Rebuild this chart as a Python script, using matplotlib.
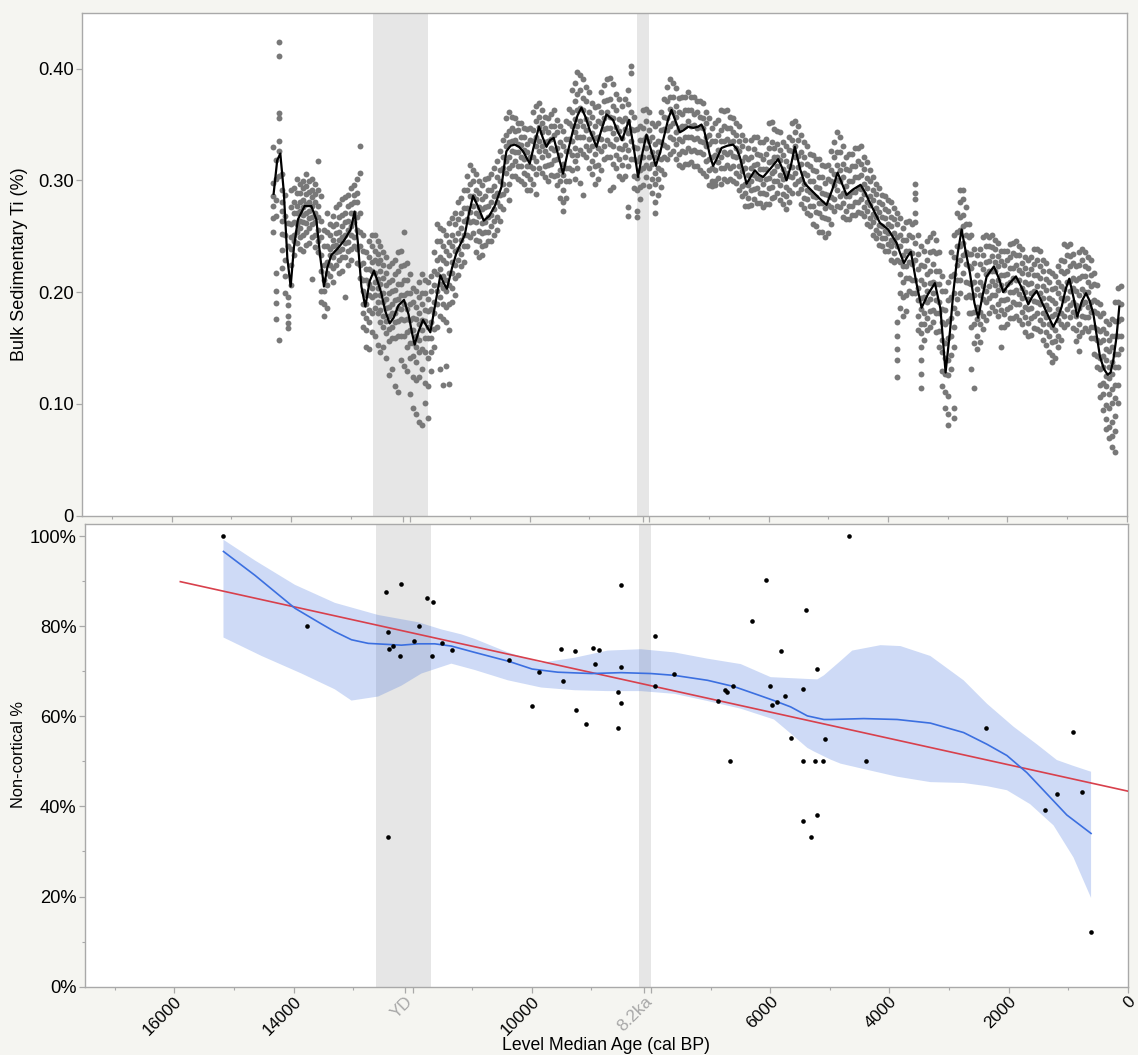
import numpy as np
import matplotlib
matplotlib.use("Agg")
import matplotlib.pyplot as plt

plt.rcParams['font.family'] = ['Liberation Sans', 'DejaVu Sans']

# ---------------- top panel: bulk sedimentary Ti ----------------
# sample ages (cal BP) at which the point cloud was read
TI_AGE = [
    14300, 14250, 14200, 14150, 14100, 14050, 14000, 13950, 13900, 13850,
    13800, 13750, 13700, 13650, 13600, 13550, 13500, 13450, 13400, 13350,
    13300, 13250, 13200, 13150, 13100, 13050, 13000, 12950, 12900, 12850,
    12800, 12750, 12700, 12650, 12600, 12550, 12500, 12450, 12400, 12350,
    12300, 12250, 12200, 12150, 12100, 12050, 12000, 11950, 11900, 11850,
    11800, 11750, 11700, 11650, 11600, 11550, 11500, 11450, 11400, 11350,
    11300, 11250, 11200, 11150, 11100, 11050, 11000, 10950, 10900, 10850,
    10800, 10750, 10700, 10650, 10600, 10550, 10500, 10450, 10400, 10350,
    10300, 10250, 10200, 10150, 10100, 10050, 10000, 9950, 9900, 9850,
    9800, 9750, 9700, 9650, 9600, 9550, 9500, 9450, 9400, 9350,
    9300, 9250, 9200, 9150, 9100, 9050, 9000, 8950, 8900, 8850,
    8800, 8750, 8700, 8650, 8600, 8550, 8500, 8450, 8400, 8350,
    8300, 8250, 8200, 8150, 8100, 8050, 8000, 7950, 7900, 7850,
    7800, 7750, 7700, 7650, 7600, 7550, 7500, 7450, 7400, 7350,
    7300, 7250, 7200, 7150, 7100, 7050, 7000, 6950, 6900, 6850,
    6800, 6750, 6700, 6650, 6600, 6550, 6500, 6450, 6400, 6350,
    6300, 6250, 6200, 6150, 6100, 6050, 6000, 5950, 5900, 5850,
    5800, 5750, 5700, 5650, 5600, 5550, 5500, 5450, 5400, 5350,
    5300, 5250, 5200, 5150, 5100, 5050, 5000, 4950, 4900, 4850,
    4800, 4750, 4700, 4650, 4600, 4550, 4500, 4450, 4400, 4350,
    4300, 4250, 4200, 4150, 4100, 4050, 4000, 3950, 3900, 3850,
    3800, 3750, 3700, 3650, 3600, 3550, 3500, 3450, 3400, 3350,
    3300, 3250, 3200, 3150, 3100, 3050, 3000, 2950, 2900, 2850,
    2800, 2750, 2700, 2650, 2600, 2550, 2500, 2450, 2400, 2350,
    2300, 2250, 2200, 2150, 2100, 2050, 2000, 1950, 1900, 1850,
    1800, 1750, 1700, 1650, 1600, 1550, 1500, 1450, 1400, 1350,
    1300, 1250, 1200, 1150, 1100, 1050, 1000, 950, 900, 850,
    800, 750, 700, 650, 600, 550, 500, 450, 400, 350,
    300, 250, 200, 150, 100,
]

# Ti values read at each age (thousandths of a percent)
TI_VALUES = [
    [330, 298, 286, 277, 266, 254],
    [318, 301, 282, 268, 217, 201, 190, 176],
    [424, 411, 360, 356, 335, 326, 304, 157],
    [306, 291, 281, 273, 264, 252, 238, 222],
    [287, 268, 251, 229, 214, 199],
    [262, 241, 196, 188, 179, 172, 168],
    [291, 276, 261, 249, 239, 224, 206],
    [293, 281, 271, 263, 251, 246, 233],
    [301, 289, 277, 271, 261, 254, 244],
    [297, 289, 281, 273, 264, 257, 249, 239],
    [299, 293, 282, 276, 269, 263, 251, 237],
    [306, 295, 288, 279, 271, 262, 254, 242],
    [299, 290, 281, 273, 266, 257, 244],
    [301, 291, 285, 277, 267, 261, 249, 212],
    [297, 288, 281, 271, 263, 251, 240],
    [317, 291, 277, 267, 256, 246, 236],
    [286, 264, 249, 233, 219, 201, 191],
    [256, 241, 224, 211, 201, 189, 179],
    [271, 254, 241, 227, 217, 206, 186],
    [261, 251, 239, 233, 224, 214],
    [268, 259, 247, 241, 231, 222, 209],
    [276, 261, 253, 242, 236, 224],
    [279, 267, 254, 247, 237, 229, 217],
    [283, 269, 259, 249, 239, 231, 219],
    [285, 271, 263, 251, 244, 231, 196],
    [287, 277, 264, 256, 245, 237, 224],
    [293, 279, 271, 259, 251, 239, 229],
    [296, 287, 281, 271, 263, 249, 241],
    [301, 289, 281, 267, 256, 239, 226],
    [331, 307, 271, 254, 241, 224, 213],
    [251, 237, 226, 211, 201, 189, 181, 169],
    [236, 221, 211, 197, 189, 177, 166, 151],
    [246, 231, 221, 207, 197, 184, 173, 149],
    [251, 241, 227, 219, 204, 196, 181, 164],
    [251, 237, 229, 217, 209, 197, 186, 161],
    [246, 234, 226, 212, 204, 191, 181, 153],
    [241, 229, 219, 207, 197, 184, 173, 146],
    [236, 224, 213, 199, 191, 179, 169, 151],
    [231, 217, 206, 194, 186, 174, 163, 141],
    [223, 209, 199, 187, 179, 167, 156, 126],
    [226, 211, 201, 189, 181, 169, 159, 131],
    [229, 216, 202, 193, 181, 173, 159, 116],
    [236, 219, 207, 194, 186, 174, 161, 111],
    [237, 223, 207, 197, 185, 176, 161, 139],
    [254, 224, 211, 197, 189, 175, 161, 134],
    [226, 211, 199, 185, 176, 164, 151, 129],
    [216, 199, 189, 175, 166, 154, 141, 109],
    [204, 191, 177, 166, 154, 143, 124, 96],
    [201, 187, 176, 161, 151, 137, 121, 91],
    [209, 196, 181, 171, 157, 146, 124, 84],
    [216, 199, 189, 175, 166, 149, 131, 81],
    [211, 199, 184, 174, 159, 146, 119, 101],
    [209, 194, 183, 169, 159, 141, 116, 87],
    [214, 201, 185, 173, 159, 146, 129],
    [236, 219, 206, 191, 181, 167, 151],
    [261, 246, 229, 216, 201, 189, 169],
    [257, 246, 231, 221, 207, 196, 179, 131],
    [256, 241, 229, 214, 204, 189, 176, 117],
    [251, 237, 226, 211, 201, 187, 173, 134],
    [262, 245, 233, 217, 206, 189, 166, 118],
    [266, 251, 241, 227, 217, 204, 191],
    [271, 261, 247, 237, 224, 213, 197],
    [281, 265, 253, 239, 229, 215],
    [284, 271, 257, 247, 234, 223],
    [291, 275, 264, 251, 241, 227],
    [304, 291, 275, 265, 251, 241],
    [314, 297, 286, 272, 263, 249],
    [309, 299, 286, 277, 264, 253],
    [306, 291, 283, 271, 263, 247, 236],
    [299, 289, 276, 268, 255, 246, 231],
    [296, 283, 274, 262, 253, 241, 233],
    [301, 286, 276, 263, 254, 242],
    [302, 291, 277, 267, 254, 246],
    [306, 291, 281, 269, 259, 246],
    [311, 295, 286, 274, 264, 251],
    [317, 303, 289, 281, 267, 256],
    [326, 309, 299, 287, 277, 264],
    [336, 321, 311, 297, 288, 274],
    [356, 341, 331, 317, 307, 291],
    [361, 344, 334, 321, 311, 297, 282],
    [357, 347, 335, 326, 314, 304],
    [356, 344, 336, 325, 317, 304],
    [351, 345, 333, 325, 313, 301],
    [351, 339, 332, 321, 313, 299],
    [347, 339, 327, 319, 307, 297],
    [346, 333, 325, 313, 305, 291],
    [347, 336, 321, 313, 301, 291],
    [361, 345, 335, 321, 311, 297],
    [367, 353, 339, 331, 317, 306, 288],
    [369, 357, 348, 335, 326, 311],
    [363, 351, 343, 331, 321, 307],
    [357, 347, 334, 326, 313, 303],
    [356, 343, 335, 323, 314, 299],
    [359, 349, 337, 329, 315, 305],
    [363, 349, 341, 327, 318, 304],
    [354, 343, 329, 319, 305, 296],
    [349, 334, 323, 309, 299, 284],
    [344, 331, 315, 305, 291, 281, 273],
    [353, 337, 326, 311, 299, 284],
    [364, 351, 337, 326, 311, 299],
    [381, 361, 349, 335, 323, 309],
    [387, 371, 355, 343, 329, 317, 301],
    [397, 377, 363, 349, 339, 323, 311],
    [394, 381, 365, 353, 339, 327, 298],
    [391, 374, 363, 349, 339, 324, 287],
    [384, 371, 355, 345, 331, 321],
    [379, 361, 351, 337, 327, 311],
    [369, 357, 342, 331, 317, 306],
    [366, 349, 338, 324, 313, 297],
    [367, 353, 339, 329, 314, 301],
    [379, 361, 351, 337, 326, 309],
    [385, 371, 356, 346, 331, 319],
    [391, 372, 361, 347, 336, 321],
    [392, 373, 357, 347, 333, 321, 291],
    [386, 367, 356, 342, 331, 315, 294],
    [377, 363, 348, 337, 323, 311],
    [373, 355, 344, 329, 319, 304],
    [367, 353, 338, 328, 314, 301],
    [373, 356, 346, 332, 321, 304],
    [381, 368, 353, 342, 327, 313, 276, 268],
    [402, 396, 361, 346, 335, 319],
    [357, 345, 330, 319, 304, 293],
    [346, 329, 317, 302, 291, 273, 267],
    [349, 336, 321, 309, 294, 283],
    [363, 347, 336, 321, 311, 296],
    [364, 353, 339, 329, 314, 303],
    [361, 345, 335, 321, 311, 295],
    [351, 339, 325, 315, 301, 289],
    [349, 333, 321, 307, 297, 281, 271],
    [351, 335, 325, 311, 301, 287],
    [361, 345, 334, 319, 309, 294],
    [373, 357, 346, 332, 321, 306],
    [384, 371, 356, 345, 330, 319],
    [391, 375, 364, 349, 339, 324],
    [387, 375, 361, 351, 337, 326],
    [383, 367, 357, 343, 333, 319],
    [374, 361, 347, 337, 324, 314],
    [375, 359, 349, 335, 326, 312],
    [375, 363, 349, 339, 325, 315],
    [379, 363, 353, 339, 329, 315],
    [375, 363, 349, 339, 326, 316],
    [375, 359, 350, 337, 327, 313],
    [371, 361, 347, 338, 325, 313],
    [371, 357, 348, 335, 325, 309],
    [369, 356, 347, 334, 324, 307],
    [361, 351, 339, 331, 317, 304],
    [356, 341, 333, 319, 309, 296],
    [347, 335, 321, 311, 299, 295],
    [351, 335, 323, 309, 299, 296],
    [354, 341, 327, 316, 302],
    [363, 345, 335, 321, 311, 297],
    [362, 349, 335, 325, 311, 301],
    [363, 347, 337, 324, 314, 299],
    [357, 347, 334, 325, 311, 301],
    [356, 343, 335, 322, 313, 299],
    [351, 341, 329, 321, 307, 298],
    [349, 335, 326, 313, 304, 291],
    [341, 331, 317, 308, 295, 286],
    [336, 321, 311, 297, 289, 277],
    [329, 319, 305, 296, 284, 277],
    [336, 321, 311, 299, 291, 278],
    [339, 328, 314, 305, 292, 283],
    [339, 324, 315, 302, 293, 280],
    [334, 323, 310, 301, 289, 280],
    [334, 319, 310, 297, 289, 276],
    [337, 324, 310, 301, 288, 279],
    [351, 329, 316, 302, 293, 279],
    [352, 334, 317, 307, 294, 284],
    [346, 329, 321, 308, 299, 285],
    [344, 333, 321, 313, 299, 289],
    [343, 327, 318, 305, 296, 282],
    [334, 323, 310, 301, 288, 279],
    [331, 317, 307, 294, 286, 274],
    [339, 327, 313, 304, 291, 281],
    [351, 336, 326, 312, 303, 289],
    [353, 343, 331, 321, 307, 297],
    [349, 336, 322, 312, 299, 289],
    [341, 325, 315, 301, 292, 279],
    [334, 321, 307, 297, 284, 275],
    [331, 315, 305, 291, 283, 271],
    [324, 313, 299, 290, 277, 269],
    [323, 309, 299, 286, 277, 261],
    [319, 308, 294, 285, 272, 259],
    [319, 303, 293, 280, 271, 254],
    [314, 303, 289, 280, 267, 254],
    [313, 298, 288, 275, 266, 249],
    [314, 301, 287, 278, 265, 253],
    [326, 309, 299, 285, 276, 261],
    [334, 321, 306, 296, 283, 273],
    [343, 325, 314, 300, 291, 277],
    [339, 325, 309, 299, 286, 276],
    [331, 315, 303, 289, 280, 267],
    [321, 310, 295, 286, 273, 265],
    [324, 309, 299, 286, 277, 265],
    [324, 313, 299, 290, 277, 269],
    [329, 313, 303, 290, 281, 269],
    [329, 317, 303, 293, 281, 272],
    [331, 315, 305, 292, 283, 271],
    [321, 310, 297, 288, 276, 268],
    [316, 302, 293, 281, 273, 261],
    [309, 299, 286, 278, 266, 259],
    [303, 291, 282, 270, 263, 251],
    [297, 288, 275, 267, 256, 248],
    [293, 281, 272, 260, 253, 242],
    [287, 279, 267, 259, 248, 241],
    [286, 274, 266, 255, 248, 237],
    [282, 273, 261, 253, 243, 237],
    [281, 267, 259, 247, 241, 229],
    [275, 265, 253, 245, 235, 227],
    [271, 261, 249, 241, 229, 173, 161, 149, 139, 124],
    [266, 251, 241, 227, 216, 199, 186],
    [257, 247, 233, 223, 209, 196, 179],
    [263, 247, 237, 223, 213, 197, 183],
    [264, 251, 237, 227, 213, 201],
    [261, 249, 235, 225, 211, 199],
    [297, 289, 283, 271, 263, 244, 229, 211, 199],
    [251, 234, 221, 204, 193, 179, 166],
    [241, 224, 211, 195, 185, 171, 163, 151, 139, 127, 114],
    [237, 223, 207, 196, 181, 171, 157],
    [246, 229, 216, 201, 191, 177, 166],
    [249, 236, 219, 208, 194, 183, 169],
    [253, 237, 225, 209, 199, 184, 173],
    [247, 235, 219, 207, 193, 181, 164],
    [236, 219, 207, 191, 181, 165, 151],
    [214, 201, 185, 173, 157, 146, 129, 116],
    [201, 184, 171, 154, 141, 127, 111, 96],
    [209, 193, 174, 159, 139, 126, 107, 91, 81],
    [236, 214, 196, 177, 161, 144, 131],
    [251, 231, 216, 199, 186, 169, 151, 96, 87],
    [271, 254, 241, 224, 211, 194, 181],
    [291, 281, 267, 256, 241, 229, 211, 199],
    [291, 283, 269, 259, 244, 233, 217],
    [276, 261, 251, 236, 225, 209, 196],
    [261, 249, 234, 223, 208, 197, 181],
    [251, 234, 222, 207, 196, 181, 169, 131],
    [239, 226, 209, 197, 182, 171, 154, 114],
    [233, 215, 203, 187, 176, 161, 149],
    [239, 225, 209, 197, 182, 171, 155],
    [249, 233, 221, 205, 194, 179, 167],
    [251, 241, 227, 216, 201, 191, 175],
    [249, 241, 228, 219, 205, 195, 181],
    [251, 240, 232, 219, 210, 197, 187],
    [247, 239, 227, 219, 206, 197, 183],
    [244, 232, 223, 211, 202, 189, 179],
    [237, 228, 215, 206, 193, 184, 169, 151],
    [237, 224, 215, 202, 193, 180, 169],
    [237, 229, 216, 207, 194, 185, 171],
    [243, 231, 222, 209, 200, 187, 177],
    [244, 235, 222, 213, 200, 191, 177],
    [246, 233, 224, 211, 202, 189, 179],
    [241, 233, 220, 211, 198, 189, 175],
    [239, 226, 217, 204, 195, 182, 171],
    [231, 222, 209, 200, 187, 178, 164],
    [229, 216, 207, 194, 185, 172, 161],
    [231, 221, 208, 199, 186, 177, 162],
    [239, 225, 215, 201, 192, 179, 168],
    [239, 229, 215, 205, 191, 181, 167],
    [237, 223, 213, 199, 189, 175, 165],
    [229, 219, 205, 195, 181, 171, 157],
    [226, 212, 202, 188, 178, 164, 153],
    [219, 209, 195, 185, 171, 161, 146],
    [217, 203, 193, 179, 169, 155, 144, 137],
    [214, 204, 190, 180, 166, 156, 141],
    [223, 209, 199, 185, 175, 161, 151],
    [229, 219, 205, 195, 181, 171, 157],
    [243, 228, 217, 203, 193, 179, 169],
    [241, 233, 219, 209, 195, 185, 171],
    [243, 232, 223, 210, 201, 188, 178],
    [234, 226, 213, 204, 191, 182, 168],
    [223, 211, 201, 188, 179, 166, 156],
    [236, 224, 213, 197, 186, 171, 161, 147],
    [239, 229, 214, 203, 189, 179, 164],
    [236, 223, 214, 200, 191, 178, 168],
    [231, 222, 209, 200, 187, 178, 165],
    [229, 215, 205, 191, 182, 169, 159],
    [217, 207, 193, 183, 169, 159, 145],
    [206, 191, 181, 167, 157, 143, 133],
    [189, 179, 165, 155, 141, 131, 117, 106],
    [181, 167, 157, 143, 133, 119, 109, 94],
    [174, 163, 149, 139, 125, 116, 99, 86, 77],
    [171, 157, 147, 133, 123, 109, 96, 79, 69],
    [176, 161, 151, 137, 127, 113, 101, 84, 71, 61],
    [191, 174, 161, 145, 133, 117, 105, 89, 76, 57],
    [204, 191, 174, 161, 145, 133, 117, 101],
    [205, 189, 176, 161, 149],
]

# smoothed Ti curve (black line)
TI_SMOOTH_AGE = [
    14290, 14230, 14178, 14120, 14060, 14005, 13950, 13883, 13771, 13659,
    13575, 13510, 13447, 13390, 13324, 13200, 13100, 13000, 12933, 12880,
    12820, 12754, 12680, 12609, 12550, 12486, 12420, 12346, 12280, 12200,
    12106, 12030, 11970, 11927, 11860, 11788, 11720, 11665, 11580, 11497,
    11440, 11386, 11300, 11228, 11160, 11089, 11020, 10950, 10870, 10771,
    10680, 10586, 10474, 10430, 10391, 10320, 10251, 10180, 10112, 10000,
    9920, 9844, 9780, 9720, 9660, 9598, 9520, 9442, 9360, 9274,
    9200, 9134, 9060, 8995, 8882, 8800, 8715, 8604, 8530, 8453,
    8390, 8336, 8260, 8185, 8110, 8044, 7960, 7888, 7810, 7738,
    7680, 7625, 7550, 7486, 7420, 7347, 7260, 7180, 7123, 7080,
    7039, 6980, 6928, 6860, 6787, 6690, 6593, 6530, 6481, 6420,
    6368, 6300, 6229, 6160, 6090, 5960, 5838, 5770, 5698, 5630,
    5559, 5470, 5391, 5279, 5150, 5028, 4930, 4843, 4760, 4693,
    4580, 4458, 4380, 4302, 4134, 3995, 3855, 3790, 3732, 3670,
    3615, 3530, 3436, 3330, 3213, 3120, 3034, 2960, 2906, 2830,
    2765, 2700, 2626, 2550, 2487, 2410, 2346, 2224, 2140, 2068,
    1960, 1855, 1750, 1649, 1580, 1508, 1370, 1230, 1160, 1089,
    1020, 962, 890, 828, 750, 682, 620, 560, 500, 447,
    380, 318, 270, 225, 170, 124,
]
TI_SMOOTH = [
    .288, .318, .324, .290, .230, .205, .240, .265, .277, .277,
    .265, .232, .205, .222, .233, .240, .247, .256, .272, .245,
    .205, .187, .210, .219, .210, .199, .183, .172, .177, .188,
    .193, .180, .163, .153, .165, .175, .169, .164, .190, .215,
    .208, .203, .222, .235, .243, .251, .270, .286, .277, .264,
    .268, .277, .294, .312, .326, .331, .332, .330, .326, .315,
    .333, .348, .338, .330, .336, .338, .322, .306, .326, .345,
    .358, .365, .356, .345, .330, .345, .359, .354, .344, .336,
    .346, .354, .330, .303, .325, .341, .326, .313, .326, .342,
    .355, .363, .352, .343, .345, .348, .347, .348, .350, .345,
    .336, .322, .313, .320, .329, .331, .332, .328, .321, .308,
    .297, .303, .309, .305, .303, .311, .319, .311, .300, .312,
    .330, .310, .297, .291, .284, .278, .292, .307, .296, .287,
    .292, .296, .289, .280, .262, .256, .244, .234, .226, .232,
    .236, .210, .186, .198, .208, .185, .128, .165, .199, .235,
    .256, .237, .217, .190, .177, .198, .214, .223, .212, .200,
    .208, .214, .203, .189, .196, .201, .185, .169, .176, .187,
    .203, .212, .195, .178, .192, .199, .192, .181, .160, .142,
    .131, .126, .128, .139, .160, .187,
]

# ---------------- bottom panel: non-cortical % ----------------
NC_AGE = [15176, 13769, 12441, 12190, 11765, 11659, 12407, 12396, 12329, 12218,
          11983, 11888, 11682, 11508, 11335, 12419, 10385, 9995, 9883, 9514,
          9476, 9280, 9263, 9085, 8978, 8878, 8945, 8509, 8504, 8560,
          8509, 8560, 7930, 7930, 7611, 6874, 6767, 6723, 6678, 6623,
          6305, 6075, 5997, 5970, 5886, 5813, 5745, 5652, 5456, 5456,
          5456, 5405, 5310, 5243, 5221, 5221, 5115, 5075, 4680, 4384,
          2379, 1390, 1179, 921, 771, 615]
NC_PCT = [100.0, 80.0, 87.5, 89.4, 86.3, 85.4, 78.7, 75.0, 75.6, 73.3,
          76.8, 80.0, 73.4, 76.2, 74.7, 33.3, 72.4, 62.4, 69.8, 75.0,
          67.9, 74.4, 61.3, 58.2, 75.2, 74.8, 71.6, 89.1, 70.9, 65.5,
          63.0, 57.3, 77.9, 66.7, 69.3, 63.5, 65.8, 65.4, 50.0, 66.7,
          81.2, 90.2, 66.7, 62.6, 63.2, 74.5, 64.5, 55.1, 66.0, 50.0,
          36.7, 83.5, 33.3, 50.0, 38.1, 70.6, 50.0, 55.0, 100.0, 50.0,
          57.3, 39.3, 42.8, 56.6, 43.1, 12.2]

# linear fit (red)
FIT_AGE = [15900, 0]
FIT_PCT = [89.9, 43.4]

# smoother (blue) and its confidence band
SM_AGE = [15176, 14647, 13977, 13530, 13307, 13027, 12747, 12468, 12190, 11910,
          11631, 11352, 11184, 10961, 10385, 9995, 9565, 8999, 8504, 8001,
          7611, 7052, 6605, 6214, 5936, 5657, 5377, 5099, 4987, 4429,
          3869, 3312, 2754, 2362, 2027, 1692, 1357, 1022, 615]
SM_PCT = [96.6, 91.3, 84.0, 80.5, 78.8, 77.0, 76.2, 76.0, 75.8, 76.1,
          76.1, 75.6, 75.0, 74.2, 72.2, 70.5, 69.8, 69.5, 69.7, 69.5,
          69.1, 68.0, 66.6, 64.8, 63.5, 62.1, 60.1, 59.3, 59.3, 59.5,
          59.3, 58.5, 56.4, 53.8, 51.3, 47.5, 42.8, 38.1, 34.0]

BAND_UP_AGE = [15176, 14647, 13977, 13307, 12580, 11910, 11519, 11184, 10961, 10402,
               9844, 9286, 8727, 8169, 7611, 7052, 6494, 5992, 5377, 5210,
               5099, 4819, 4623, 4149, 3814, 3312, 2754, 2362, 1916, 1525,
               1189, 911, 615]
BAND_UP = [99.2, 94.6, 89.2, 85.2, 82.5, 80.9, 79.3, 78.2, 77.2, 74.2,
           71.9, 73.0, 74.6, 74.9, 74.2, 72.8, 71.6, 68.7, 68.3, 68.2,
           69.1, 72.3, 74.6, 75.8, 75.6, 73.4, 68.0, 62.8, 57.7, 53.8,
           50.3, 49.0, 47.7]
BAND_LO_AGE = [15176, 14536, 13865, 13307, 13027, 12580, 12190, 11854, 11352, 10961,
               10402, 9844, 9286, 8727, 8169, 7611, 7052, 6494, 5936, 5657,
               5377, 5266, 4987, 4819, 4429, 3869, 3312, 2754, 2362, 2027,
               1637, 1245, 911, 615]
BAND_LO = [77.5, 73.4, 69.5, 66.0, 63.5, 64.4, 66.8, 69.5, 71.7, 70.3,
           68.0, 66.4, 65.8, 65.6, 65.6, 65.0, 63.4, 61.7, 59.3, 56.2,
           53.0, 52.2, 50.4, 49.5, 48.3, 46.6, 45.4, 45.2, 44.5, 43.6,
           40.5, 35.8, 28.7, 19.7]

# event bands (cal BP) and their axis labels
YD_SPAN = (12620, 11700)
EV82_SPAN = (8210, 8000)
YD_TICK = 12130
EV82_TICK = 8110

MAJOR_TICKS = [16000, 14000, YD_TICK, 12000, 10000, EV82_TICK, 8000, 6000, 4000, 2000, 0]
MAJOR_LABELS = ['16000', '14000', 'YD', '', '10000', '8.2ka', '', '6000', '4000', '2000', '0']
MINOR_TICKS = [17000, 15000, 13000, 11000, 9000, 7000, 5000, 3000, 1000]

TI_YTICKS = [0, 0.10, 0.20, 0.30, 0.40]
TI_YLABELS = ['0', '0.10', '0.20', '0.30', '0.40']
NC_YTICKS = [0, 20, 40, 60, 80, 100]
NC_YLABELS = ['0%', '20%', '40%', '60%', '80%', '100%']
NC_YMINOR = [10, 30, 50, 70, 90]

# ---------------- figure ----------------
W, H = 1138, 1055
BG = '#f5f5f1'
SPINE = '#a9a9a9'
BAND = '#e6e6e6'

fig = plt.figure(figsize=(W / 100, H / 100), dpi=100, facecolor=BG)


def px_axes(x0, y0, x1, y1):
    return fig.add_axes([x0 / W, 1 - y1 / H, (x1 - x0) / W, (y1 - y0) / H])


ax1 = px_axes(82, 12.8, 1126.7, 515.5)
ax2 = px_axes(85, 524, 1127.7, 986.6)

for ax in (ax1, ax2):
    ax.set_facecolor('white')
    ax.set_xlim(17500, 0)
    for s in ax.spines.values():
        s.set_color(SPINE)
        s.set_linewidth(1.0)
    ax.axvspan(YD_SPAN[0], YD_SPAN[1], color=BAND, lw=0, zorder=0)
    ax.axvspan(EV82_SPAN[0], EV82_SPAN[1], color=BAND, lw=0, zorder=0)
    ax.set_xticks(MAJOR_TICKS)
    ax.set_xticks(MINOR_TICKS, minor=True)
    ax.tick_params(axis='both', which='major', direction='out', length=4.6,
                   width=0.9, color=SPINE, labelsize=13.2, pad=1.5)
    ax.tick_params(axis='both', which='minor', direction='out', length=2.4,
                   width=0.8, color=SPINE)
    ax.tick_params(axis='x', which='major', length=4.3, pad=1.0)

# ---- top panel ----
xs, ys = [], []
for a, vals in zip(TI_AGE, TI_VALUES):
    for v in vals:
        xs.append(a)
        ys.append(v / 1000.0)
ax1.scatter(xs, ys, s=18, color='#787878', linewidths=0, zorder=2)
ax1.plot(TI_SMOOTH_AGE, TI_SMOOTH, color='black', lw=1.6, zorder=3,
         solid_joinstyle='round')
ax1.set_ylim(0, 0.45)
ax1.set_yticks(TI_YTICKS, labels=TI_YLABELS)
ax1.tick_params(axis='x', labelbottom=False)

# ---- bottom panel ----
band_x = list(BAND_UP_AGE) + list(BAND_LO_AGE[::-1])
band_y = list(BAND_UP) + list(BAND_LO[::-1])
ax2.fill(band_x, band_y, color=(60 / 255, 110 / 255, 220 / 255), alpha=0.25,
         lw=0, zorder=1)
ax2.plot(FIT_AGE, FIT_PCT, color='#d8404c', lw=1.2, zorder=3)
ax2.plot(SM_AGE, SM_PCT, color='#3b6fe0', lw=1.2, zorder=3)
ax2.scatter(NC_AGE, NC_PCT, s=11, color='black', linewidths=0, zorder=4)
ax2.set_ylim(0, 102.7)
ax2.set_yticks(NC_YTICKS, labels=NC_YLABELS)
ax2.set_yticks(NC_YMINOR, minor=True)
ax2.set_xticklabels(MAJOR_LABELS)
for lab in ax2.get_xticklabels():
    lab.set_rotation(45)
    lab.set_ha('right')
    lab.set_va('top')
    lab.set_rotation_mode('anchor')
    lab.set_fontsize(12.3)
    if lab.get_text() in ('YD', '8.2ka'):
        lab.set_color('#a8a8a8')

# axis titles
fig.text(19.5 / W, 1 - 264 / H, 'Bulk Sedimentary Ti (%)', rotation=90,
         ha='center', va='center', fontsize=13)
fig.text(18.5 / W, 1 - 755 / H, 'Non-cortical %', rotation=90,
         ha='center', va='center', fontsize=11.8)
fig.text(606 / W, 1 - 1046 / H, 'Level Median Age (cal BP)',
         ha='center', va='center', fontsize=12.7)

fig.savefig('out.png', dpi=100, facecolor=BG)
